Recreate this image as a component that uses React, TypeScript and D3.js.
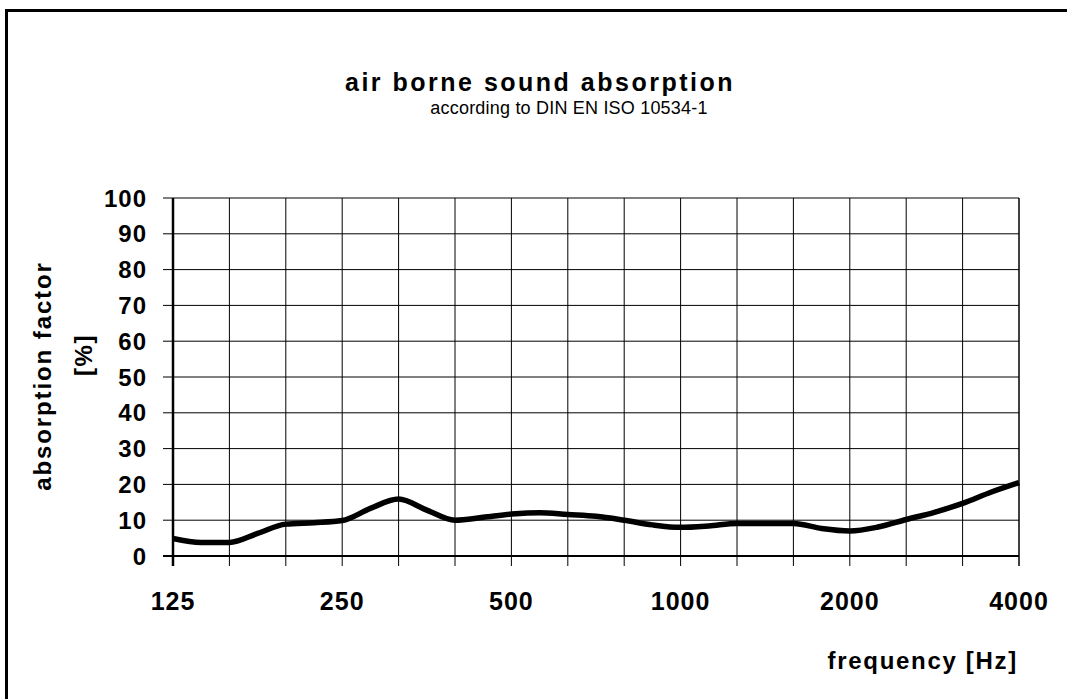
import React from 'react';
import * as d3 from 'd3';

// 1/6-octave sample points
const freqs = ['125', '140', '160', '180', '200', '224', '250', '280', '315', '355', '400', '450', '500', '560', '630', '710', '800', '900', '1000', '1120', '1250', '1400', '1600', '1800', '2000', '2240', '2500', '2800', '3150', '3550', '4000'];
const absorption = [4.9, 3.8, 3.8, 6.3, 8.9, 9.3, 9.9, 13.3, 15.9, 12.8, 10.0, 10.8, 11.7, 12.1, 11.6, 11.1, 10.0, 8.7, 8.0, 8.4, 9.1, 9.1, 9.1, 7.7, 7.0, 8.1, 10.2, 12.2, 14.7, 17.8, 20.5];

// third-octave bands -> grid lines and ticks
const bands = ['125', '160', '200', '250', '315', '400', '500', '630', '800', '1000', '1250', '1600', '2000', '2500', '3150', '4000'];
const bandLabels = ['125', '250', '500', '1000', '2000', '4000'];
const yTicks = [0, 10, 20, 30, 40, 50, 60, 70, 80, 90, 100];

const W = 1067;
const H = 699;
const plot = { left: 173, right: 1019, top: 198, bottom: 556 };
const font = '"Liberation Sans", Arial, sans-serif';

export default function App() {
  const x = d3.scalePoint<string>().domain(freqs).range([plot.left, plot.right]);
  const y = d3.scaleLinear().domain([0, 100]).range([plot.bottom, plot.top]);

  const points = freqs.map((f, i) => ({ f, v: absorption[i] }));
  const line = d3.line<{ f: string; v: number }>()
    .x(d => x(d.f) as number)
    .y(d => y(d.v))
    .curve(d3.curveMonotoneX);

  return (
    <svg width={W} height={H} style={{ position: 'absolute', left: 0, top: 0, background: '#fff', display: 'block' }} fontFamily={font}>
      <rect x={6.5} y={10.5} width={1200} height={900} fill="#fff" stroke="#000" strokeWidth={3} />

      {/* titles */}
      <text x={540} y={91} textAnchor="middle" fontSize={25} fontWeight="bold" letterSpacing={2.5}>air borne sound absorption</text>
      <text x={569} y={114} textAnchor="middle" fontSize={18} letterSpacing={0.2}>according to DIN EN ISO 10534-1</text>

      {/* horizontal grid */}
      {yTicks.map(t => (
        <g key={'h' + t}>
          <line x1={plot.left - 10} x2={plot.right} y1={y(t)} y2={y(t)} stroke="#000" strokeWidth={t === 0 ? 2 : 1} />
          <text x={147} y={y(t)} dy="0.36em" textAnchor="end" fontSize={24} fontWeight="bold" letterSpacing={1}>{t}</text>
        </g>
      ))}

      {/* vertical grid + ticks */}
      {bands.map(b => (
        <line key={'v' + b} x1={x(b)} x2={x(b)} y1={plot.top} y2={plot.bottom + 10} stroke="#000" strokeWidth={b === '125' ? 2.5 : b === '4000' ? 1.5 : 1} />
      ))}
      {bandLabels.map(b => (
        <text key={'l' + b} x={x(b)} y={610} textAnchor="middle" fontSize={25} fontWeight="bold" letterSpacing={1}>{b}</text>
      ))}

      {/* curve */}
      <path d={line(points) || ''} fill="none" stroke="#000" strokeWidth={5.5} strokeLinejoin="round" />

      {/* axis titles */}
      <text transform="translate(51,376) rotate(-90)" textAnchor="middle" fontSize={24} fontWeight="bold" letterSpacing={1.9}>absorption factor</text>
      <text transform="translate(92,355) rotate(-90)" textAnchor="middle" fontSize={24} fontWeight="bold" letterSpacing={1.5}>[%]</text>
      <text x={1018} y={669} textAnchor="end" fontSize={24} fontWeight="bold" letterSpacing={1.7}>frequency [Hz]</text>
    </svg>
  );
}
